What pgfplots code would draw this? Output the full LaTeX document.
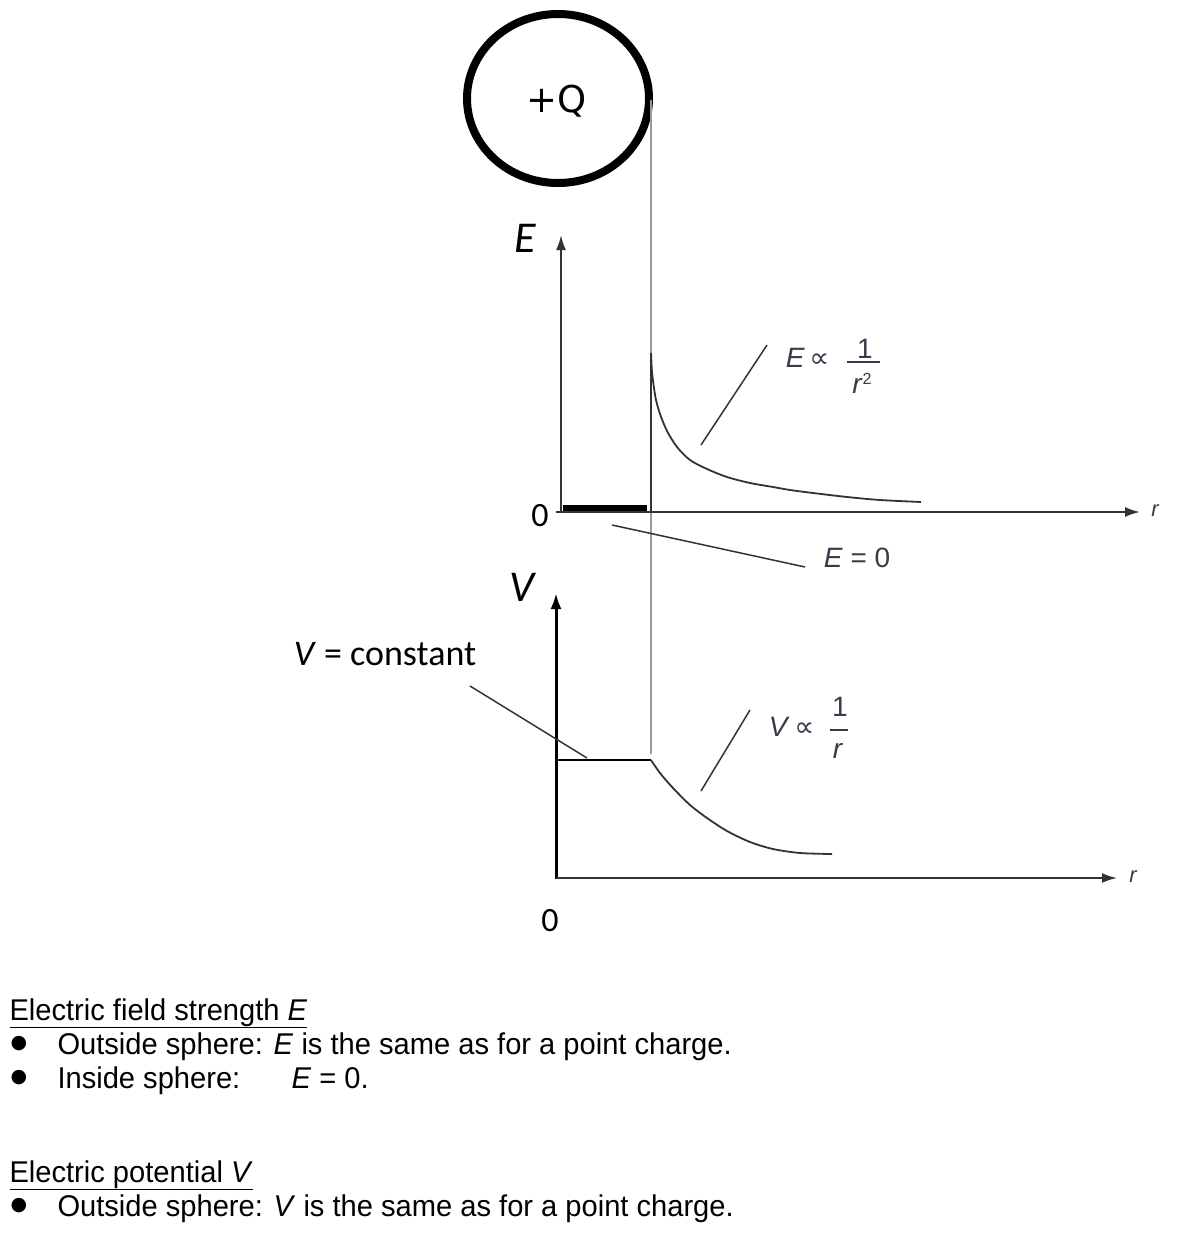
\documentclass[border=0pt]{standalone}
\usepackage{pgfplots}
\pgfplotsset{compat=1.18}
\usetikzlibrary{arrows.meta}
\usepackage{fontspec}
\setmainfont{Liberation Sans}
\newfontfamily\body[FakeStretch=0.97]{Liberation Sans}
\newfontfamily\carlito{Carlito}
\newfontfamily\dejavu{DejaVu Sans}
\definecolor{ln}{HTML}{333333}
\definecolor{gd}{HTML}{9A9A9A}
\definecolor{lb}{HTML}{3A3A4A}
\begin{document}
\begin{tikzpicture}
\begin{axis}[
  width=1178pt, height=1244pt, scale only axis,
  xmin=0, xmax=1178, ymin=0, ymax=1244, y dir=reverse,
  hide axis, clip=false,
  every node/.style={inner sep=0pt, outer sep=0pt},
]
\fill[white] (axis cs:0,0) rectangle (axis cs:1178,1244);
% sphere
\draw[line width=8pt, black] (axis cs:558,98.5) ellipse [x radius=91pt, y radius=84.5pt];
\node[font=\dejavu\fontsize{37}{42}\selectfont] at (axis cs:557,101) {+Q};
% guide line
\addplot[gd, line width=1.5pt] coordinates {(651,100) (651,754)};
% E axes
\addplot[ln, line width=2pt, -{Latex[length=15pt,width=10pt]}] coordinates {(561,513) (561,235)};
\addplot[ln, line width=2pt, -{Latex[length=15pt,width=10pt]}] coordinates {(556,512) (1140,512)};
\addplot[black, line width=5.5pt] coordinates {(563,508) (647,508)};
% E curve
\addplot[ln, line width=1.8pt] coordinates {(651,512) (651,353)};
\addplot[ln, line width=1.8pt, smooth] coordinates {
 (651,353) (652,372) (654,388) (656,400) (660,414) (667,431) (677,447) (690,460)
 (707,469) (727,477) (750,483) (773,487) (790,490) (813,493) (847,497) (880,500) (921,502)};
% V axes
\addplot[black, line width=3pt, -{Latex[length=16pt,width=11pt]}] coordinates {(556,879) (556,593)};
\addplot[ln, line width=2pt, -{Latex[length=15pt,width=10pt]}] coordinates {(556,878) (1117,878)};
% V curve
\addplot[black, line width=2pt] coordinates {(556,760) (651,760)};
\addplot[ln, line width=1.8pt, smooth] coordinates {
 (651,760) (660,773) (673,788) (690,805) (707,818) (727,831) (750,842) (773,849) (800,853) (832,854)};
% pointers
\addplot[ln, line width=1.5pt] coordinates {(767,345) (701,445)};
\addplot[ln, line width=1.5pt] coordinates {(612,525) (805,567)};
\addplot[ln, line width=1.5pt] coordinates {(470,686) (587,758)};
\addplot[ln, line width=1.5pt] coordinates {(750,710) (701,791)};
% fraction bars
\addplot[lb, line width=1.5pt] coordinates {(847,362) (880,362)};
\addplot[lb, line width=1.5pt] coordinates {(830,730) (848,730)};
% axis labels
\node[font=\carlito\itshape\fontsize{44}{48}\selectfont] at (axis cs:525,238) {E};
\node[font=\carlito\itshape\fontsize{44}{48}\selectfont] at (axis cs:522,587) {V};
\node[font=\carlito\fontsize{34}{38}\selectfont] at (axis cs:540,516) {0};
\node[font=\carlito\fontsize{34}{38}\selectfont] at (axis cs:550,921) {0};
\node[font=\carlito\fontsize{36}{40}\selectfont] at (axis cs:385,654) {\textit{V} = constant};
\node[font=\itshape\fontsize{22}{24}\selectfont, text=lb] at (axis cs:1155,511) {r};
\node[font=\itshape\fontsize{22}{24}\selectfont, text=lb] at (axis cs:1133,877) {r};
% curve labels
\node[font=\fontsize{28}{30}\selectfont, text=lb, anchor=east] at (axis cs:833,358) {\textit{E}\,{\dejavu\fontsize{28}{30}\selectfont ∝}};
\node[font=\fontsize{28}{30}\selectfont, text=lb] at (axis cs:865,349) {1};
\node[font=\fontsize{28}{30}\selectfont, text=lb] at (axis cs:862,383) {\textit{r}\raisebox{9pt}{\fontsize{16}{18}\selectfont 2}};
\node[font=\fontsize{28}{30}\selectfont, text=lb, anchor=east] at (axis cs:818,727) {\textit{V}\,{\dejavu\fontsize{28}{30}\selectfont ∝}};
\node[font=\fontsize{28}{30}\selectfont, text=lb] at (axis cs:840,707) {1};
\node[font=\fontsize{28}{30}\selectfont, text=lb] at (axis cs:838,751) {\textit{r}};
\node[font=\fontsize{28}{30}\selectfont, text=lb] at (axis cs:857,558) {\textit{E} = 0};
% bottom text
\begin{scope}[every node/.append style={anchor=base west, font=\body\fontsize{30}{33}\selectfont}]
\node at (axis cs:6,1020) {\underline{Electric field strength \textit{E}}};
\node at (axis cs:54,1054) {Outside sphere: \textit{E} is the same as for a point charge.};
\node at (axis cs:54,1088) {Inside sphere:};
\node at (axis cs:288,1088) {\textit{E} = 0.};
\node at (axis cs:6,1182) {\underline{Electric potential \textit{V}}};
\node at (axis cs:54,1216) {Outside sphere: \textit{V} is the same as for a point charge.};
\end{scope}
\begin{scope}[every node/.append style={font=\dejavu\fontsize{19}{22}\selectfont}]
\node at (axis cs:19,1044) {●};
\node at (axis cs:19,1078) {●};
\node at (axis cs:19,1206) {●};
\end{scope}
\end{axis}
\end{tikzpicture}
\end{document}
